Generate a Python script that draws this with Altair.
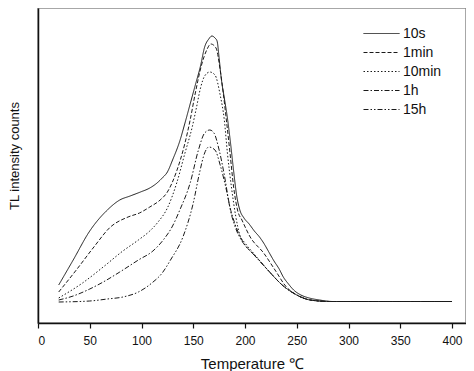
import altair as alt
import pandas as pd

# Temperature (°C) and TL intensity (arbitrary units)
T_10s = [20, 34, 50, 67, 79, 89, 99, 108, 115, 120, 125, 130, 137, 142, 147, 152, 157, 161, 165, 168,
         171, 173, 175, 177, 180, 183, 186, 189, 192, 195, 199, 204, 209, 214, 218, 223, 228, 233, 237,
         242, 247, 254, 262, 272, 285, 300, 400]
I_10s = [38, 63, 92, 113, 123, 127, 131, 135, 140, 145, 151, 163, 182, 200, 219, 238, 257, 276, 284, 287,
         285, 282, 265, 245, 225, 205, 180, 152, 127, 113, 105, 99, 92, 86, 80, 71, 62, 54, 46,
         39, 33, 28, 25, 23, 21.5, 21.5, 21.5]

T_1min = [20, 37, 54, 70, 87, 98, 108, 118, 125, 134, 142, 147, 152, 158, 163, 167, 172, 176, 182, 185.5,
          189, 193, 197, 205, 218, 229, 240, 250, 263, 282, 400]
I_1min = [31, 53, 76, 96, 106, 110, 116, 123, 131, 152, 180, 203, 230, 258, 273, 279, 275, 253, 203, 170,
          136, 112, 103, 86, 70, 53, 36, 28, 23, 21.5, 21.5]

T_10min = [20, 43, 63, 82, 97, 108, 116, 125, 134, 142, 149, 153, 157, 161, 166, 171, 176, 180, 183, 187,
           191, 195, 200, 208, 222, 237, 250, 263, 282, 400]
I_10min = [25, 40, 56, 72, 83, 92, 101, 115, 140, 170, 196, 215, 235, 247, 251, 248, 228, 203, 170, 135,
           107, 88, 80, 70, 53, 37, 28, 23, 21.5, 21.5]

T_1h = [20, 34, 50, 63, 79, 97, 111, 121, 130, 137, 147, 155, 161, 166, 170, 175, 180, 185, 190, 195,
        200, 207, 222, 237, 250, 263, 282, 400]
I_1h = [23, 27, 34, 41, 51, 63, 72, 83, 97, 113, 140, 173, 190, 193, 190, 173, 148, 118, 100, 87,
        78, 70, 53, 37, 28, 23, 21.5, 21.5]

T_15h = [20, 50, 67, 82, 97, 110, 120, 128, 140, 150, 156, 161, 165, 171, 176, 182, 187, 192, 197, 203,
         210, 222, 237, 250, 263, 282, 400]
I_15h = [21, 22, 24, 26, 31, 40, 50, 63, 86, 120, 150, 170, 176, 173, 158, 133, 108, 92, 82, 74,
         67, 53, 37, 28, 23, 21.5, 21.5]

series = ["10s", "1min", "10min", "1h", "15h"]
dashes = [[1, 0], [4, 2], [1.5, 2], [5, 2, 1.5, 2], [5, 2, 1.5, 2, 1.5, 2]]
x_ticks = [0, 50, 100, 150, 200, 250, 300, 350, 400]

rows = []
for name, ts, vs in [("10s", T_10s, I_10s), ("1min", T_1min, I_1min), ("10min", T_10min, I_10min),
                     ("1h", T_1h, I_1h), ("15h", T_15h, I_15h)]:
    for t, v in zip(ts, vs):
        rows.append({"series": name, "T": t, "I": v})
df = pd.DataFrame(rows)

FONT = "Liberation Sans"

chart = alt.Chart(df).mark_line(color="#1a1a1a", strokeWidth=1, interpolate="monotone").encode(
    x=alt.X("T:Q", scale=alt.Scale(domain=[0, 413.5], nice=False, zero=False),
            axis=alt.Axis(values=x_ticks, title="Temperature ℃", grid=False, tickSize=5,
                          labelFontSize=12, titleFontSize=15, labelPadding=7, titlePadding=10,
                          labelFont=FONT, titleFont=FONT, titleFontWeight="normal",
                          domainColor="#111", tickColor="#111", labelColor="#111", titleColor="#111",
                          domainWidth=1.5, tickWidth=1.2, format="d")),
    y=alt.Y("I:Q", scale=alt.Scale(domain=[0, 315], nice=False, zero=False),
            axis=alt.Axis(title="TL intensity counts", labels=False, ticks=False, grid=False,
                          titleFontSize=13, titleFont=FONT, titleFontWeight="normal", titlePadding=17,
                          titleY=147.5, domainColor="#111", domainWidth=1.5, titleColor="#111")),
    strokeDash=alt.StrokeDash("series:N", sort=series,
                              scale=alt.Scale(domain=series, range=dashes),
                              legend=alt.Legend(orient="none", legendX=325, legendY=16, title=None,
                                                symbolType="stroke", symbolSize=1296, clipHeight=19,
                                                rowPadding=0, padding=0, labelFontSize=14, labelFont=FONT,
                                                labelOffset=3, symbolStrokeWidth=1,
                                                symbolStrokeColor="#1a1a1a", labelColor="#111")),
    detail="series:N",
    order=alt.Order("T:Q"),
).properties(
    width=428, height=315,
    autosize=alt.AutoSizeParams(type="none"),
    padding={"left": 30, "top": 0, "right": 0, "bottom": 48},
).configure_view(stroke="#8a8a8a", strokeWidth=1.5)

chart.save("out.html", embed_options={"renderer": "svg", "actions": False})
